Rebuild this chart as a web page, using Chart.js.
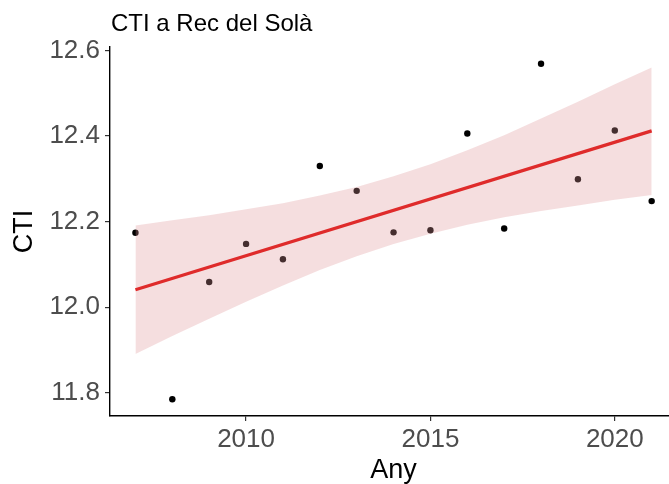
<!DOCTYPE html>
<html>
<head>
<meta charset="utf-8">
<script src="https://cdn.jsdelivr.net/npm/chart.js@4.4.0/dist/chart.umd.min.js"></script>
<style>
html, body { margin: 0; padding: 0; background: #fff; }
</style>
</head>
<body>
<canvas id="ctiChart" width="669" height="484"></canvas>
<script>
// data
const chartTitle = "CTI a Rec del Solà";
const xTitle = "Any";
const years = [2007, 2008, 2009, 2010, 2011, 2012, 2013, 2014, 2015, 2016, 2017, 2018, 2019, 2020, 2021];
const cti = [12.174, 11.785, 12.059, 12.148, 12.112, 12.330, 12.272, 12.175, 12.180, 12.406, 12.184, 12.569, 12.299, 12.413, 12.248];

// fitted line (ends) and confidence band, also
const fitYears = [2007, 2021];
const fitValues = [12.041, 12.412];
const bandUpper = [12.191, 12.203, 12.215, 12.229, 12.243, 12.261, 12.281, 12.306, 12.334, 12.367, 12.402, 12.441, 12.480, 12.521, 12.560];
const bandLower = [11.891, 11.933, 11.973, 12.013, 12.051, 12.087, 12.119, 12.148, 12.172, 12.193, 12.210, 12.225, 12.238, 12.251, 12.262];

const xTicks = [2010, 2015, 2020];
const yTicks = [11.8, 12.0, 12.2, 12.4, 12.6];

const fontFamily = '"Liberation Sans", Arial, sans-serif';

const pts = (xs, ys) => xs.map((x, i) => ({ x: x, y: ys[i] }));

// title at the left edge of the plot area, x title centred on the (cropped) panel
const textPlugin = {
    id: 'plotTexts',
    afterDraw(chart) {
        const c = chart.ctx;
        c.save();
        c.font = '24px ' + fontFamily;
        c.fillStyle = '#000';
        c.textBaseline = 'alphabetic';
        c.fillText(chartTitle, chart.chartArea.left + 1, 30.5);

        c.font = '27px ' + fontFamily;
        c.textAlign = 'center';
        c.textBaseline = 'middle';
        c.fillText(xTitle, chart.scales.x.getPixelForValue(2014), 470.5);
        c.restore();
    }
};

const ctx = document.getElementById('ctiChart');

new Chart(ctx, {
    type: 'line',
    data: {
        datasets: [{
            // fit line on top
            data: pts(fitYears, fitValues),
            borderColor: '#df2b2b',
            borderWidth: 3.2,
            pointRadius: 0,
            fill: false
        }, {
            data: pts(years, bandUpper),
            borderColor: 'rgba(0,0,0,0)',
            borderWidth: 0,
            pointRadius: 0,
            backgroundColor: 'rgba(222,150,152,0.31)',
            fill: '+1'
        }, {
            data: pts(years, bandLower),
            borderColor: 'rgba(0,0,0,0)',
            borderWidth: 0,
            pointRadius: 0,
            fill: false
        }, {
            data: pts(years, cti),
            showLine: false,
            pointRadius: 3.2,
            pointBackgroundColor: '#000',
            pointBorderWidth: 0
        }]
    },
    options: {
        responsive: false,
        animation: false,
        layout: { autoPadding: false, padding: { top: 47, left: 0, right: 0, bottom: 0 } },
        plugins: {
            legend: { display: false },
            tooltip: { enabled: false }
        },
        scales: {
            x: {
                type: 'linear',
                min: 2006.31,
                max: 2021.47,
                afterBuildTicks: (scale) => { scale.ticks = xTicks.map(v => ({ value: v })); },
                afterFit: (scale) => {
                    scale.height = 68;
                    scale.paddingLeft = 0;
                    scale.paddingRight = 0;
                },
                grid: { drawOnChartArea: false, drawTicks: true, tickLength: 5, color: '#333', lineWidth: 1.2 },
                border: { display: true, color: '#000', width: 1.4 },
                ticks: {
                    padding: 3,
                    color: '#4d4d4d',
                    font: { family: fontFamily, size: 26 },
                    callback: (v) => String(v)
                }
            },
            y: {
                min: 11.746,
                max: 12.608,
                afterBuildTicks: (scale) => { scale.ticks = yTicks.map(v => ({ value: v })); },
                afterFit: (scale) => { scale.width = 110; },
                grid: { drawOnChartArea: false, drawTicks: true, tickLength: 5, color: '#333', lineWidth: 1.2 },
                border: { display: true, color: '#000', width: 1.4 },
                ticks: {
                    padding: 5,
                    color: '#4d4d4d',
                    font: { family: fontFamily, size: 26 },
                    callback: (v) => v.toFixed(1)
                },
                title: {
                    display: true,
                    text: 'CTI',
                    color: '#000',
                    font: { family: fontFamily, size: 27, lineHeight: 1.0 },
                    padding: { top: 11, bottom: 0 }
                }
            }
        }
    },
    plugins: [textPlugin]
});
</script>
</body>
</html>
